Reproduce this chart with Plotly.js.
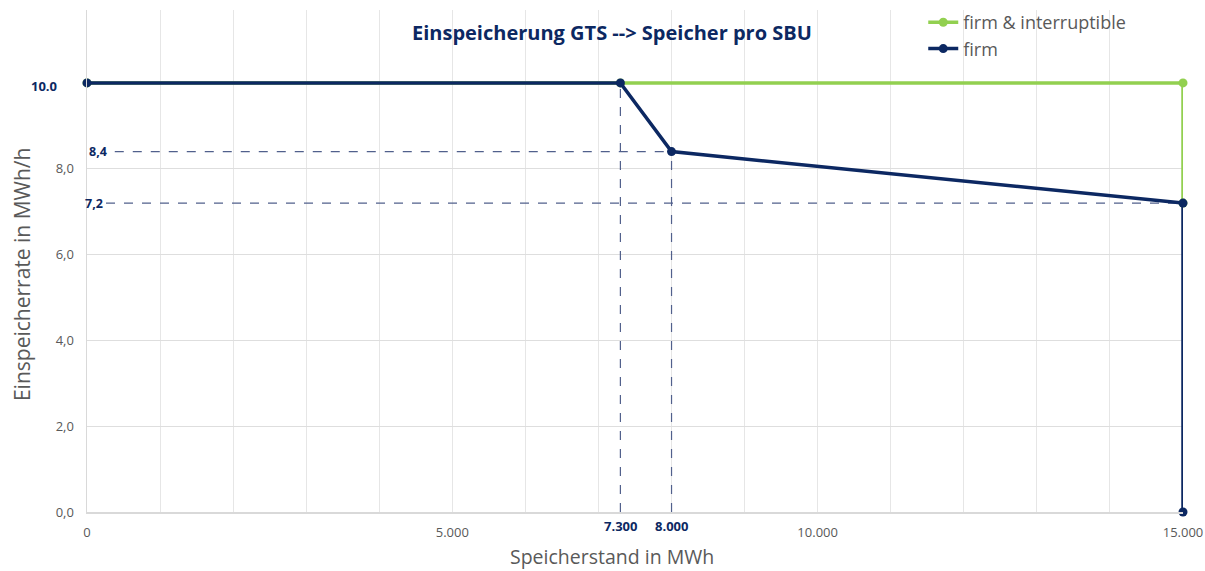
<!DOCTYPE html>
<html><head><meta charset="utf-8">
<script src="https://cdn.plot.ly/plotly-3.0.1.min.js"></script>
<style>html,body{margin:0;padding:0;background:#fff}#chart{width:1205px;height:571px}</style>
</head><body><div id="chart"></div>
<script>
// Data
const seriesNames = ["firm & interruptible", "firm"];
const fiX = [0, 7300, 15000, 15000];
const fiY = [10, 10, 10, 7.2];
const firmX = [0, 7300, 8000, 15000, 15000];
const firmY = [10, 10, 8.4, 7.2, 0];
const xTickVals = [0,1000,2000,3000,4000,5000,6000,7000,8000,9000,10000,11000,12000,13000,14000,15000];
const xTickLabels = ["0","","","","","5.000","","","","","10.000","","","","","15.000"];
const yTickVals = [0, 2, 4, 6, 8, 10];
const yTickLabels = ["0,0", "2,0", "4,0", "6,0", "8,0", ""];
// highlighted reference values
const refX = [7300, 8000];
const refXLabels = ["7.300", "8.000"];
const refXTop = [10, 8.4];
const refY = [8.4, 7.2];
const refYLabels = ["8,4", "7,2"];
const refYEnd = [8000, 15000];
const topLabel = "10.0";
const titleText = "Einspeicherung GTS --> Speicher pro SBU";
const xTitle = "Speicherstand in MWh";
const yTitle = "Einspeicherrate in MWh/h";

const navy = "#0c2862", green = "#92d050", gray = "#595959", dashC = "#51608c";
const font = "Open Sans, Noto Sans, sans-serif";

const traces = [
  {x: fiX, y: fiY, name: seriesNames[0], mode: "lines+markers", line: {color: green, width: 3.5}, marker: {color: green, size: 9}, cliponaxis: false},
  {x: firmX, y: firmY, name: seriesNames[1], mode: "lines+markers", line: {color: navy, width: 3.5}, marker: {color: navy, size: 9}, cliponaxis: false}
];

const shapes = [];
const annotations = [];
refX.forEach((v, i) => {
  shapes.push({type: "line", xref: "x", yref: "y", x0: v, x1: v, y0: 0, y1: refXTop[i], line: {color: dashC, width: 1.2, dash: "dash"}, layer: "between"});
  annotations.push({xref: "x", yref: "paper", x: v, y: 0, yanchor: "middle", yshift: -14, text: "<b>" + refXLabels[i] + "</b>", showarrow: false, font: {family: font, size: 13, color: navy}});
});
refY.forEach((v, i) => {
  shapes.push({type: "line", xref: "x", yref: "y", x0: 380 - i*120, x1: refYEnd[i], y0: v, y1: v, line: {color: dashC, width: 1.2, dash: "dash"}, layer: "between"});
  annotations.push({xref: "x", yref: "y", x: 150 - i*60, y: v, yshift: 0, text: "<b>" + refYLabels[i] + "</b>", showarrow: false, font: {family: font, size: 12.5, color: navy}});
});
annotations.push({xref: "paper", yref: "y", x: 0, xanchor: "right", xshift: -28, y: 10, yanchor: "middle", yshift: -3, text: "<b>" + topLabel + "</b>", showarrow: false, font: {family: font, size: 13, color: navy}});
annotations.push({xref: "paper", yref: "paper", x: 0.479, y: 0.956, yanchor: "middle", text: "<b>" + titleText + "</b>", showarrow: false, font: {family: font, size: 20, color: navy}});
annotations.push({xref: "paper", yref: "paper", x: 0.479, y: 0, yanchor: "middle", yshift: -44, text: xTitle, showarrow: false, font: {family: font, size: 19.5, color: gray}});
annotations.push({xref: "paper", yref: "paper", x: 0, xanchor: "center", xshift: -65, y: 0.472, yanchor: "middle", text: yTitle, textangle: -90, showarrow: false, font: {family: font, size: 21, color: gray}});

const layout = {
  width: 1205, height: 571,
  margin: {l: 87, r: 22, t: 10, b: 59, autoexpand: false},
  paper_bgcolor: "#fff", plot_bgcolor: "#fff",
  separators: ",.",
  showlegend: true,
  legend: {x: 0.763, y: 0.993, xanchor: "left", yanchor: "top", yref: "container", font: {family: font, size: 18, color: gray}, bgcolor: "rgba(0,0,0,0)", tracegroupgap: 0, itemwidth: 30},
  xaxis: {range: [0, 15000], tickvals: xTickVals, ticktext: xTickLabels, showgrid: true, gridcolor: "#e6e6e6", gridwidth: 1, zeroline: false, showline: true, linecolor: "#d9d9d9", linewidth: 1.5, tickfont: {family: font, size: 13, color: gray}, ticklabelstandoff: 8, fixedrange: true},
  yaxis: {range: [0, 11.7], tickvals: yTickVals, ticktext: yTickLabels, showgrid: true, gridcolor: "#dedede", gridwidth: 1, zeroline: false, showline: true, linecolor: "#d9d9d9", linewidth: 1.5, tickfont: {family: font, size: 13, color: gray}, ticklabelstandoff: 9, fixedrange: true},
  shapes: shapes,
  annotations: annotations
};
Plotly.newPlot("chart", traces, layout, {displayModeBar: false, staticPlot: true});
</script></body></html>
